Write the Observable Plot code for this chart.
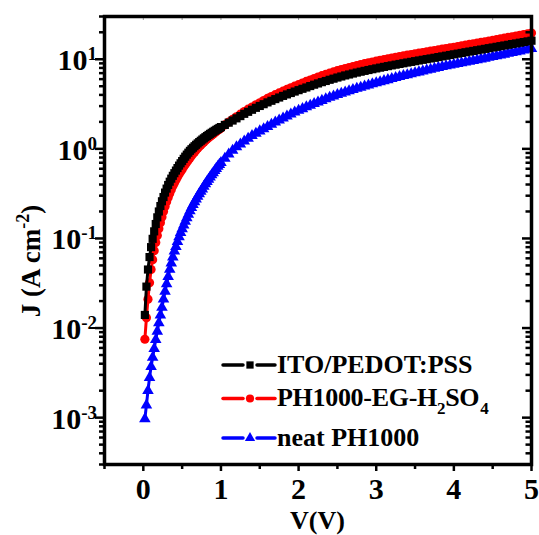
<!DOCTYPE html>
<html><head><meta charset="utf-8">
<script src="https://cdn.jsdelivr.net/npm/d3@7"></script>
<script src="https://cdn.jsdelivr.net/npm/@observablehq/plot@0.6"></script>
<style>body{margin:0;background:#fff}</style>
</head><body><div id="chart"></div>
<script>
// ---- data ----
const V = [0.02,0.04,0.06,0.08,0.10,0.12,0.14,0.16,0.18,0.20,0.22,0.24,0.26,0.28,0.30,0.32,0.34,0.36,0.38,0.40,
  0.42,0.44,0.46,0.48,0.50,0.52,0.54,0.56,0.58,0.60,0.62,0.64,0.66,0.68,0.70,0.72,0.74,0.76,0.78,0.80,
  0.82,0.84,0.86,0.88,0.90,0.92,0.94,0.96,0.98,1.00,
  1.05,1.10,1.15,1.20,1.25,1.30,1.35,1.40,1.45,1.50,
  1.55,1.60,1.65,1.70,1.75,1.80,1.85,1.90,1.95,2.00,
  2.05,2.10,2.15,2.20,2.25,2.30,2.35,2.40,2.45,2.50,
  2.55,2.60,2.65,2.70,2.75,2.80,2.85,2.90,2.95,3.00,
  3.05,3.10,3.15,3.20,3.25,3.30,3.35,3.40,3.45,3.50,
  3.55,3.60,3.65,3.70,3.75,3.80,3.85,3.90,3.95,4.00,
  4.05,4.10,4.15,4.20,4.25,4.30,4.35,4.40,4.45,4.50,
  4.55,4.60,4.65,4.70,4.75,4.80,4.85,4.90,4.95,5.00];
const jITO = [0.014,0.029,0.045,0.062,0.080,0.099,0.12,0.145,0.172,0.20,0.23,0.26,0.29,0.325,0.36,0.395,0.43,0.465,0.50,0.535,
  0.572,0.61,0.65,0.69,0.73,0.774,0.818,0.862,0.906,0.95,0.99,1.03,1.07,1.11,1.15,1.19,1.23,1.27,1.31,1.35,
  1.39,1.43,1.47,1.51,1.55,1.59,1.63,1.67,1.71,1.75,
  1.85,1.96,2.07,2.19,2.32,2.46,2.59,2.73,2.87,3.01,
  3.15,3.30,3.44,3.59,3.74,3.90,4.05,4.20,4.36,4.52,
  4.68,4.84,5.02,5.2,5.37,5.55,5.72,5.9,6.07,6.25,
  6.42,6.6,6.76,6.93,7.1,7.26,7.42,7.58,7.74,7.9,
  8.06,8.22,8.38,8.54,8.7,8.86,9.02,9.19,9.35,9.52,
  9.69,9.86,10.03,10.2,10.38,10.57,10.76,10.95,11.15,11.35,
  11.55,11.76,11.97,12.18,12.39,12.61,12.83,13.06,13.29,13.52,
  13.76,14.0,14.25,14.5,14.76,15.02,15.29,15.56,15.83,16.1];
const jEG = [0.0075,0.013,0.021,0.032,0.045,0.058,0.073,0.09,0.108,0.128,0.15,0.174,0.2,0.227,0.256,0.286,0.317,0.35,0.384,0.415,
  0.45,0.485,0.52,0.555,0.59,0.63,0.67,0.71,0.75,0.79,0.835,0.88,0.925,0.97,1.015,1.06,1.105,1.15,1.195,1.24,
  1.285,1.33,1.375,1.42,1.465,1.51,1.56,1.61,1.66,1.71,
  1.85,1.99,2.13,2.28,2.44,2.61,2.77,2.93,3.1,3.27,
  3.46,3.65,3.83,4.02,4.21,4.4,4.6,4.8,5.0,5.2,
  5.42,5.65,5.87,6.1,6.32,6.55,6.77,7.0,7.22,7.45,
  7.66,7.88,8.09,8.3,8.51,8.72,8.92,9.13,9.32,9.52,
  9.72,9.92,10.11,10.3,10.5,10.7,10.9,11.1,11.3,11.5,
  11.7,11.9,12.1,12.3,12.51,12.72,12.94,13.16,13.39,13.62,
  13.86,14.11,14.36,14.62,14.87,15.13,15.4,15.67,15.94,16.22,
  16.53,16.85,17.17,17.5,17.82,18.15,18.5,18.85,19.22,19.6];
const jNeat = [0.00097,0.00138,0.0020,0.0028,0.0037,0.0047,0.0059,0.0074,0.0092,0.0114,0.0139,0.0170,0.0210,0.0256,0.031,0.0375,0.045,0.053,0.062,0.072,
  0.081,0.092,0.104,0.116,0.128,0.141,0.155,0.17,0.186,0.203,0.22,0.238,0.256,0.275,0.295,0.315,0.335,0.356,0.38,0.405,
  0.43,0.457,0.484,0.512,0.54,0.571,0.603,0.636,0.668,0.70,
  0.78,0.87,0.96,1.05,1.13,1.22,1.31,1.40,1.49,1.58,
  1.67,1.77,1.87,1.98,2.09,2.2,2.32,2.44,2.56,2.68,
  2.8,2.93,3.06,3.19,3.32,3.46,3.6,3.74,3.88,4.03,
  4.16,4.3,4.44,4.58,4.72,4.86,5.0,5.15,5.3,5.45,
  5.6,5.75,5.9,6.06,6.22,6.38,6.54,6.7,6.86,7.03,
  7.2,7.37,7.54,7.72,7.9,8.08,8.26,8.44,8.6,8.75,
  8.92,9.1,9.28,9.47,9.66,9.85,10.05,10.25,10.46,10.68,
  10.9,11.12,11.36,11.6,11.85,12.1,12.35,12.6,12.85,13.1];

const seriesNames = ["ITO/PEDOT:PSS", "PH1000-EG-H2SO4", "neat PH1000"];
const seriesColors = ["#000000", "#ff0000", "#0000ff"];
const seriesSymbols = ["square", "circle", "triangle"];

const xMajorTicks = [0, 1, 2, 3, 4, 5];
const xMinorTicks = [-0.5, 0.5, 1.5, 2.5, 3.5, 4.5];
const yMajorTicks = [1e-3, 1e-2, 1e-1, 1, 10];
const yExponents = ["-3", "-2", "-1", "0", "1"];
const yMinorTicks = [3e-4,4e-4,5e-4,6e-4,7e-4,8e-4,9e-4,
  2e-3,3e-3,4e-3,5e-3,6e-3,7e-3,8e-3,9e-3,
  2e-2,3e-2,4e-2,5e-2,6e-2,7e-2,8e-2,9e-2,
  0.2,0.3,0.4,0.5,0.6,0.7,0.8,0.9,
  2,3,4,5,6,7,8,9,20,30];
const xLabel = "V(V)";

// ---- layout ----
const W = 539, H = 535, ML = 104, MR = 8, MT = 16, MB = 71;
const PW = W - ML - MR, PH = H - MT - MB;
const FONT = "'Liberation Serif','Times New Roman',serif";
const R_SQ = 4.6, R_CI = 4.6, R_TR = 4.3, LW = 3;

const rows = s => V.map((v, i) => ({V: v, J: s[i]}));
const dITO = rows(jITO), dEG = rows(jEG), dNeat = rows(jNeat);

const chart = Plot.plot({
  width: W, height: H,
  marginLeft: ML, marginRight: MR, marginTop: MT, marginBottom: MB,
  style: {fontFamily: FONT, fontWeight: "bold", background: "white", overflow: "visible"},
  x: {domain: [-0.5, 5], axis: null},
  y: {type: "log", domain: [3e-4, 30], axis: null},
  marks: [
    Plot.line(dEG, {x: "V", y: "J", stroke: seriesColors[1], strokeWidth: LW}),
    Plot.dot(dEG, {x: "V", y: "J", fill: seriesColors[1], stroke: "none", r: R_CI, symbol: seriesSymbols[1]}),
    Plot.line(dNeat, {x: "V", y: "J", stroke: seriesColors[2], strokeWidth: LW}),
    Plot.dot(dNeat, {x: "V", y: "J", fill: seriesColors[2], stroke: "none", r: R_TR, symbol: seriesSymbols[2]}),
    Plot.line(dITO, {x: "V", y: "J", stroke: seriesColors[0], strokeWidth: LW}),
    Plot.dot(dITO, {x: "V", y: "J", fill: seriesColors[0], stroke: "none", r: R_SQ, symbol: seriesSymbols[0]}),
    // left ticks (outward)
    Plot.tickY(yMajorTicks, {y: d => d, insetLeft: -9, insetRight: PW, strokeWidth: 2.5}),
    Plot.tickY(yMinorTicks, {y: d => d, insetLeft: -5, insetRight: PW, strokeWidth: 2.5}),
    // right ticks (inward)
    Plot.tickY(yMajorTicks, {y: d => d, insetLeft: PW - 9, insetRight: 0, strokeWidth: 2.5}),
    Plot.tickY(yMinorTicks, {y: d => d, insetLeft: PW - 5.5, insetRight: 0, strokeWidth: 2.5}),
    // bottom ticks (outward)
    Plot.tickX(xMajorTicks, {x: d => d, insetTop: PH, insetBottom: -7, strokeWidth: 2.5}),
    Plot.tickX(xMinorTicks, {x: d => d, insetTop: PH, insetBottom: -5, strokeWidth: 2.5}),
    // top ticks (small, grey)
    Plot.tickX(xMajorTicks.concat(xMinorTicks), {x: d => d, insetTop: 0, insetBottom: PH - 4, stroke: "#999", strokeWidth: 1}),
    // x tick labels
    Plot.text(xMajorTicks, {x: d => d, frameAnchor: "bottom", text: d => String(d), lineAnchor: "bottom", dy: 34, fontSize: 30}),
    Plot.frame({stroke: "black", strokeWidth: 3.5})
  ]
});
document.getElementById("chart").appendChild(chart);

// ---- labels, using the chart's scales ----
const ys = chart.scale("y");
const svg = d3.select(chart);
const g = svg.append("g").attr("font-family", FONT).attr("font-weight", "bold").attr("fill", "black");

yMajorTicks.forEach((t, i) => {
  const y = ys.apply(t);
  const txt = g.append("text").attr("x", ML - 7).attr("y", y + 11.5)
    .attr("text-anchor", "end").attr("font-size", 30);
  txt.append("tspan").text("10");
  txt.append("tspan").attr("font-size", 19).attr("dy", -10).text(yExponents[i]);
});

// y label
const yl = g.append("text").attr("transform", "translate(40,261) rotate(-90)")
  .attr("text-anchor", "middle").attr("font-size", 27);
yl.append("tspan").text("J (A cm");
yl.append("tspan").attr("font-size", 18).attr("dy", -11).text("-2");
yl.append("tspan").attr("dy", 11).text(")");

// x label
g.append("text").attr("x", ML + PW / 2).attr("y", 529).attr("text-anchor", "middle")
  .attr("font-size", 26).text(xLabel);

// legend
const legY = [365, 398.5, 438];
const legBase = [373, 406, 446];
const symMap = {square: d3.symbolSquare, circle: d3.symbolCircle, triangle: d3.symbolTriangle};
const rMap = [4.1, 4.1, 3.8];
seriesNames.forEach((name, i) => {
  const lg = g.append("g");
  lg.append("line").attr("x1", 223).attr("x2", 243).attr("y1", legY[i]).attr("y2", legY[i])
    .attr("stroke", seriesColors[i]).attr("stroke-width", 3.5).attr("stroke-linecap", "round");
  lg.append("line").attr("x1", 257).attr("x2", 275).attr("y1", legY[i]).attr("y2", legY[i])
    .attr("stroke", seriesColors[i]).attr("stroke-width", 3.5).attr("stroke-linecap", "round");
  lg.append("path").attr("transform", `translate(250,${legY[i]})`)
    .attr("d", d3.symbol(symMap[seriesSymbols[i]], Math.PI * rMap[i] * rMap[i])())
    .attr("fill", seriesColors[i]);
  const t = lg.append("text").attr("x", 277).attr("y", legBase[i]).attr("font-size", 26)
    .attr("text-anchor", "start");
  if (i === 1) {
    t.attr("letter-spacing", -0.3);
    t.append("tspan").text("PH1000-EG-H");
    t.append("tspan").attr("font-size", 17).attr("dy", 8).text("2");
    t.append("tspan").attr("dy", -8).text("SO");
    t.append("tspan").attr("font-size", 17).attr("dx", 1).attr("dy", 8).text("4");
  } else {
    t.text(name);
  }
});
</script>
</body></html>
